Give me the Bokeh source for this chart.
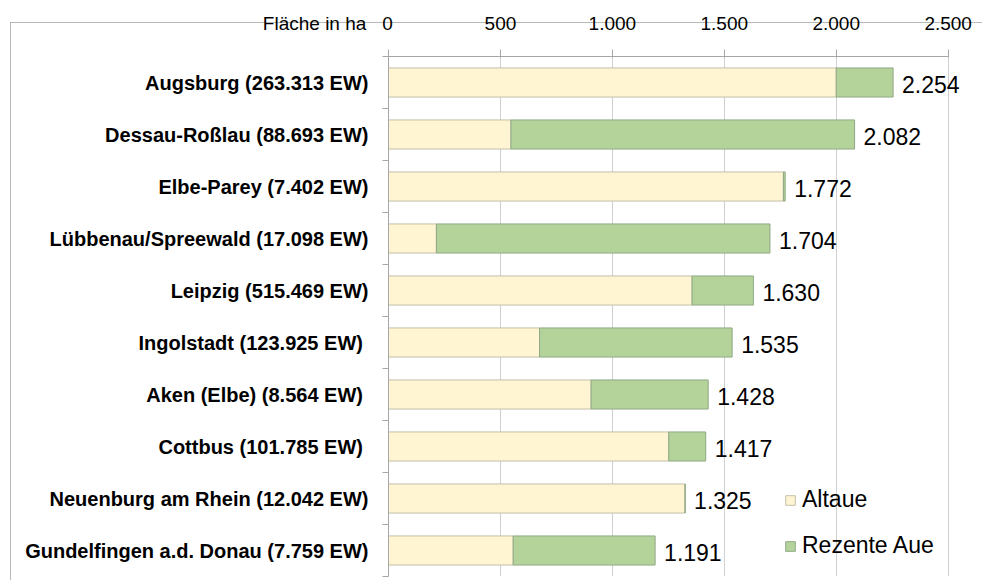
from bokeh.plotting import figure
from bokeh.models import FixedTicker, LabelSet, ColumnDataSource, Range1d
from bokeh.embed import file_html
from bokeh.resources import INLINE
from bokeh.core.properties import value

# ---- data (top to bottom) ----
cities = [
    "Augsburg (263.313 EW)",
    "Dessau-Roßlau (88.693 EW)",
    "Elbe-Parey (7.402 EW)",
    "Lübbenau/Spreewald (17.098 EW)",
    "Leipzig (515.469 EW)",
    "Ingolstadt (123.925  EW)",
    "Aken (Elbe) (8.564  EW)",
    "Cottbus (101.785  EW)",
    "Neuenburg am Rhein (12.042 EW)",
    "Gundelfingen a.d. Donau (7.759 EW)",
]
altaue = [2000, 547, 1764, 214, 1356, 675, 905, 1252, 1325, 557]
rezente = [254, 1535, 8, 1490, 274, 860, 523, 165, 0, 634]
totals = [2254, 2082, 1772, 1704, 1630, 1535, 1428, 1417, 1325, 1191]
total_labels = ["2.254", "2.082", "1.772", "1.704", "1.630", "1.535", "1.428", "1.417", "1.325", "1.191"]
x_ticks = [0, 500, 1000, 1500, 2000, 2500]
x_tick_labels = ["0", "500", "1.000", "1.500", "2.000", "2.500"]
series_names = ["Altaue", "Rezente Aue"]
axis_title = "Fläche in ha"

FONT = "Liberation Sans"
NBSP = "\u00a0"
n = len(cities)
ypos = [n - 1 - i for i in range(n)]

src = ColumnDataSource(dict(y=ypos, Altaue=altaue, Rezente=rezente,
                            total=totals, label=total_labels, city=cities))

p = figure(width=982, height=580, output_backend="svg", toolbar_location=None,
           x_range=Range1d(0, 2640), y_range=Range1d(-0.5, n - 0.5),
           x_axis_location="above",
           min_border_left=388, min_border_top=56, min_border_right=3, min_border_bottom=4)
p.border_fill_color = None
p.background_fill_color = None
p.title.visible = False
p.styles = {
    "background-image": "linear-gradient(#b9b9b9, #b9b9b9), linear-gradient(#b9b9b9, #b9b9b9)",
    "background-size": "1px 100%, 100% 1px",
    "background-position": "10px 22px, 10px 22px",
    "background-repeat": "no-repeat",
}

p.hbar_stack(["Altaue", "Rezente"], y="y", height=0.56, source=src,
             fill_color=["#fff5d3", "#b3d39b"], line_color=["#c4bfa8", "#8fa884"],
             line_width=1, legend_label=series_names)

labels = LabelSet(x="total", y="y", text="label", source=src, x_offset=9, y_offset=-2,
                  text_baseline="middle", text_font=value(FONT), text_font_size="23px",
                  text_color="#000000")
p.add_layout(labels)

# x axis (top); the unit title shares the row of the tick labels, to the left of "0"
overrides = {t: s for t, s in zip(x_ticks, x_tick_labels)}
overrides[x_ticks[0]] = axis_title + NBSP * 3 + x_tick_labels[0] + NBSP * 23
xa = p.xaxis[0]
xa.ticker = FixedTicker(ticks=x_ticks)
xa.bounds = (0, 2500)
xa.major_label_overrides = overrides
xa.axis_line_color = "#a6a6a6"
xa.major_tick_line_color = "#a6a6a6"
xa.major_tick_in = 1
xa.major_tick_out = 7
xa.minor_tick_line_color = None
xa.major_label_standoff = 16
xa.major_label_text_font = FONT
xa.major_label_text_font_size = "19px"
xa.major_label_text_color = "#000000"

# y axis (left) with category names
ya = p.yaxis[0]
ya.ticker = FixedTicker(ticks=ypos, minor_ticks=[v - 0.5 for v in range(n + 1)])
ya.major_label_overrides = {y: c for y, c in zip(ypos, cities)}
ya.axis_line_color = "#a6a6a6"
ya.major_tick_line_color = None
ya.major_tick_in = 0
ya.major_tick_out = 0
ya.minor_tick_line_color = "#a6a6a6"
ya.minor_tick_in = 0
ya.minor_tick_out = 6
ya.major_label_standoff = 14
ya.major_label_text_font = FONT
ya.major_label_text_font_size = "20px"
ya.major_label_text_font_style = "bold"
ya.major_label_text_color = "#000000"

p.xgrid.grid_line_color = "#d0d0d0"
p.ygrid.grid_line_color = None
p.outline_line_color = None

lg = p.legend[0]
lg.location = (396, 17)
lg.padding = 0
lg.margin = 0
lg.spacing = 19
lg.glyph_width = 12
lg.glyph_height = 12
lg.label_height = 20
lg.label_standoff = 6
lg.label_text_font = FONT
lg.label_text_font_size = "23px"
lg.label_text_color = "#000000"
lg.border_line_alpha = 0
lg.background_fill_alpha = 0

open("out.html", "w").write(file_html(p, INLINE))
